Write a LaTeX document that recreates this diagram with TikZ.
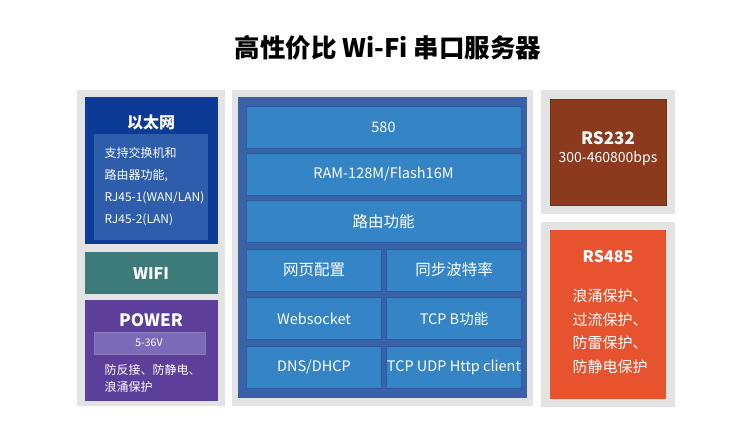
\documentclass[tikz,border=0pt]{standalone}
\usepackage{fontspec}
\setmainfont{Noto Sans CJK SC}
\definecolor{panelgrey}{HTML}{E3E3E3}
\definecolor{ethblue}{HTML}{0B3A97}
\definecolor{ethinner}{HTML}{2D5DAB}
\definecolor{wifiteal}{HTML}{3D7B7B}
\definecolor{powerpurple}{HTML}{5B3F9B}
\definecolor{powerinner}{HTML}{7A6AB8}
\definecolor{coreblue}{HTML}{3A62A8}
\definecolor{cellblue}{HTML}{3584C6}
\definecolor{cellline}{HTML}{2C5B9F}
\definecolor{rsbrown}{HTML}{8B3A1E}
\definecolor{rsred}{HTML}{E8532F}
\tikzset{
  panel/.style={fill=panelgrey},
  cell/.style={draw=cellline,fill=cellblue,line width=1pt,text=white,
    inner sep=0pt,minimum height=42pt,font=\fontsize{14.5}{17}\selectfont},
  wide/.style={cell,minimum width=275pt},
  half/.style={cell,minimum width=135pt},
  heading/.style={text=white,font=\bfseries\fontsize{16}{19}\selectfont},
  bodytext/.style={text=white,align=left,anchor=west,
    font=\fontsize{12}{22}\selectfont}
}
\begin{document}
\begin{tikzpicture}[x=1pt,y=-1pt]
  \useasboundingbox[fill=white] (0,0) rectangle (750,432);
  \node[font=\bfseries\fontsize{25.5}{30}\selectfont] (title) at (388,48)
    {高性价比 Wi-Fi 串口服务器};
  % left column
  \begin{scope}
    \path[panel] (77,90) rectangle (225,406);
    \path[fill=ethblue] (85,97) rectangle (218,244);
    \path[fill=ethinner] (94,134) rectangle (208,240);
    \node[heading] (eth) at (151,122) {以太网};
    \node[bodytext] (ethtext) at (101,187)
      {支持交换机和\\路由器功能,\\RJ45-1(WAN/LAN)\\RJ45-2(LAN)};
    \path[fill=wifiteal] (85,252) rectangle (218,294);
    \node[heading] (wifi) at (151,274) {WIFI};
    \path[fill=powerpurple] (85,300) rectangle (218,401);
    \node[heading,font=\bfseries\fontsize{17}{20}\selectfont] (power)
      at (151,320) {POWER};
    \path[fill=powerinner,draw=powerpurple!70!white] (94,332) rectangle (205,354);
    \node[text=white,font=\fontsize{10.5}{12}\selectfont] (volt) at (149,343) {5-36V};
    \node[bodytext,font=\fontsize{12}{17}\selectfont] (powertext) at (101,378)
      {防反接、防静电、\\浪涌保护};
  \end{scope}
  % middle column
  \begin{scope}
    \path[panel] (232,90) rectangle (533,406);
    \path[fill=coreblue] (238,97) rectangle (527,398);
    \node[wide] (chip) at (383.5,127) {580};
    \node[wide] (mem) at (383.5,174.5) {RAM-128M/Flash16M};
    \node[wide,font=\fontsize{15.5}{18}\selectfont] (route) at (383.5,221.5) {路由功能};
    \node[half,font=\fontsize{15.5}{18}\selectfont] (web) at (314,270) {网页配置};
    \node[half,font=\fontsize{15.5}{18}\selectfont] (baud) at (454,270) {同步波特率};
    \node[half] (sock) at (314,318.5) {Websocket};
    \node[half] (tcpb) at (454,318.5) {TCP B功能};
    \node[half] (dns) at (314,367.5) {DNS/DHCP};
    \node[half] (client) at (454,367.5) {TCP UDP Http client};
  \end{scope}
  % right column
  \begin{scope}
    \path[panel] (541,90) rectangle (675,214);
    \path[fill=rsbrown,draw=rsbrown!80!black] (550,99) rectangle (666,205);
    \node[heading,font=\bfseries\fontsize{17}{20}\selectfont] (rs232)
      at (608,138) {RS232};
    \node[text=white,font=\fontsize{14}{17}\selectfont] (bps)
      at (608,159) {300-460800bps};
    \path[panel] (541,222) rectangle (675,407);
    \path[fill=rsred] (550,230) rectangle (666,399);
    \node[heading] (rs485) at (608,257) {RS485};
    \node[bodytext,font=\fontsize{15}{23.5}\selectfont] (rstext) at (569,331)
      {浪涌保护、\\过流保护、\\防雷保护、\\防静电保护};
  \end{scope}
\end{tikzpicture}
\end{document}
